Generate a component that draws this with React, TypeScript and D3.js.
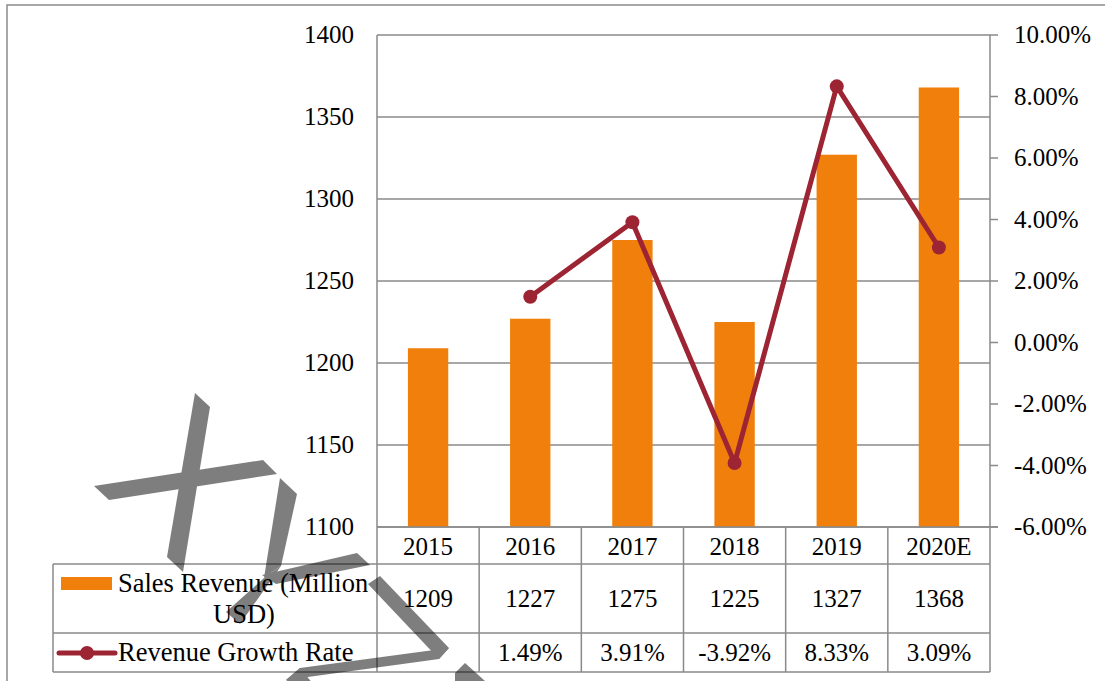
import React from "react";
import * as d3 from "d3";

const categories = ["2015", "2016", "2017", "2018", "2019", "2020E"];
const salesRevenue = [1209, 1227, 1275, 1225, 1327, 1368];
const growthRate: (number | null)[] = [null, 1.49, 3.91, -3.92, 8.33, 3.09];
const leftTicks = [1100, 1150, 1200, 1250, 1300, 1350, 1400];
const rightTicks = [-6, -4, -2, 0, 2, 4, 6, 8, 10];
const seriesNames = ["Sales Revenue (Million", "USD)", "Revenue Growth Rate"];

const W = 1105;
const H = 681;
const plotL = 377;
const plotR = 990;
const plotT = 35;
const plotB = 527;
const tableL = 53;
const row1B = 564;
const row2B = 633;
const row3B = 672;

const ORANGE = "#F0800B";
const RED = "#9D2433";
const GRID = "#8a8a8a";
const FONT = '"Liberation Serif", Tinos, "Nimbus Roman", "Times New Roman", Times, "DejaVu Serif", serif';

const pct = (v: number) => d3.format(".2f")(v).replace("\u2212", "-") + "%";

// decorative watermark strokes
const watermark: [number, number][][] = [
  [[195, 393], [210, 407], [183, 572], [167, 557]],
  [[94, 486], [263, 460], [277, 474], [109, 500]],
  [[280, 478], [297, 494], [281, 566], [264, 578]],
  [[262, 575], [357, 553], [370, 565], [276, 584]],
  [[264, 578], [281, 566], [240, 624], [226, 612]],
  [[368, 584], [380, 576], [449, 648], [439, 659]],
  [[439, 659], [449, 648], [300, 668], [286, 680]],
  [[286, 680], [300, 668], [318, 690], [300, 690]],
  [[465, 663], [495, 690], [455, 690], [455, 673]],
];

export default function App() {
  const x = d3.scaleBand<string>().domain(categories).range([plotL, plotR]).paddingInner(0).paddingOuter(0);
  const yL = d3.scaleLinear().domain([1100, 1400]).range([plotB, plotT]);
  const yR = d3.scaleLinear().domain([-6, 10]).range([plotB, plotT]);
  const bw = x.bandwidth();
  const barW = bw * 0.395;
  const cx = (c: string) => (x(c) as number) + bw / 2;

  const pts = categories
    .map((c, i) => ({ c, v: growthRate[i] }))
    .filter((d) => d.v !== null) as { c: string; v: number }[];
  const line = d3
    .line<{ c: string; v: number }>()
    .x((d) => cx(d.c))
    .y((d) => yR(d.v));

  const boundaries = [plotL, ...categories.map((c) => (x(c) as number) + bw)];
  const ts: React.CSSProperties = { fontFamily: FONT };

  return (
    <svg
      width={W}
      height={H}
      style={{ position: "absolute", left: 0, top: 0, display: "block", background: "#fff", fontFamily: FONT }}
    >
      <rect x={0} y={0} width={W} height={H} fill="#fff" />
      <rect x={7} y={5} width={W + 20} height={H + 20} fill="none" stroke={GRID} strokeWidth={1.5} />

      {/* gridlines */}
      {leftTicks.map((t) => (
        <line key={t} x1={plotL} x2={plotR} y1={yL(t)} y2={yL(t)} stroke={GRID} strokeWidth={1.5} />
      ))}
      {/* right axis */}
      <line x1={plotR} x2={plotR} y1={plotT} y2={plotB} stroke={GRID} strokeWidth={1.5} />
      {rightTicks.map((t) => (
        <line key={t} x1={plotR} x2={plotR + 8} y1={yR(t)} y2={yR(t)} stroke={GRID} strokeWidth={1.5} />
      ))}
      {/* left axis */}
      <line x1={plotL} x2={plotL} y1={plotT} y2={row3B} stroke={GRID} strokeWidth={1.5} />

      {/* bars */}
      {categories.map((c, i) => (
        <rect
          key={c}
          x={cx(c) - barW / 2}
          y={yL(salesRevenue[i])}
          width={barW}
          height={plotB - yL(salesRevenue[i])}
          fill={ORANGE}
        />
      ))}

      {/* line */}
      <path d={line(pts) as string} fill="none" stroke={RED} strokeWidth={5} strokeLinejoin="round" />
      {pts.map((d) => (
        <circle key={d.c} cx={cx(d.c)} cy={yR(d.v)} r={7} fill={RED} />
      ))}

      {/* tick labels */}
      {leftTicks.map((t) => (
        <text key={t} style={ts} x={354} y={yL(t)} dy="0.33em" textAnchor="end" fontSize={25} fill="#000">
          {t}
        </text>
      ))}
      {rightTicks.map((t) => (
        <text key={t} style={ts} x={1014} y={yR(t)} dy="0.33em" textAnchor="start" fontSize={25} fill="#000">
          {pct(t)}
        </text>
      ))}

      {/* table */}
      {boundaries.slice(1).map((b, i) => (
        <line key={i} x1={b} x2={b} y1={plotB} y2={row3B} stroke={GRID} strokeWidth={1.5} />
      ))}
      <line x1={tableL} x2={tableL} y1={row1B} y2={row3B} stroke={GRID} strokeWidth={1.5} />
      {[row1B, row2B, row3B].map((yy) => (
        <line key={yy} x1={tableL} x2={plotR} y1={yy} y2={yy} stroke={GRID} strokeWidth={1.5} />
      ))}
      <line x1={plotL} x2={plotR + 8} y1={plotB} y2={plotB} stroke={GRID} strokeWidth={1.5} />

      {categories.map((c, i) => (
        <g key={c} fontSize={25} textAnchor="middle" fill="#000">
          <text style={ts} x={cx(c)} y={555}>{c}</text>
          <text style={ts} x={cx(c)} y={607}>{salesRevenue[i]}</text>
          {growthRate[i] !== null && (
            <text style={ts} x={cx(c)} y={661}>{pct(growthRate[i] as number)}</text>
          )}
        </g>
      ))}

      {/* legend keys */}
      <rect x={61} y={577} width={51} height={13} fill={ORANGE} />
      <line x1={59} x2={115} y1={653} y2={653} stroke={RED} strokeWidth={5} strokeLinecap="round" />
      <circle cx={87} cy={653} r={7} fill={RED} />
      <text style={ts} x={118} y={592} fontSize={26.5} fill="#000">{seriesNames[0]}</text>
      <text style={ts} x={244} y={623} fontSize={26.5} fill="#000" textAnchor="middle">{seriesNames[1]}</text>
      <text style={ts} x={118} y={661} fontSize={26.5} fill="#000">{seriesNames[2]}</text>

      {/* watermark */}
      <g fill="#000" opacity={0.5}>
        {watermark.map((p, i) => (
          <polygon key={i} points={p.map((q) => q.join(",")).join(" ")} />
        ))}
      </g>
    </svg>
  );
}
